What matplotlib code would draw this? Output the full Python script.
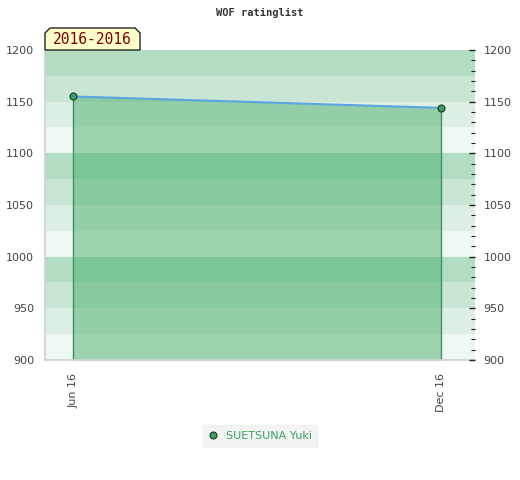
import datetime as dt
import matplotlib
matplotlib.use("Agg")
import matplotlib.pyplot as plt
import matplotlib.dates as mdates
from matplotlib.patches import Polygon
from matplotlib.ticker import MultipleLocator

# data
dates = [dt.date(2016, 6, 1), dt.date(2016, 12, 1)]
ratings = [1155, 1144]
tick_labels = ["Jun 16", "Dec 16"]
player = "SUETSUNA Yuki"
period = "2016-2016"

fig = plt.figure(figsize=(5.2, 4.8), dpi=100)
ax = fig.add_axes([45 / 520, 120 / 480, 430 / 520, 310 / 480])

ymin, ymax = 900, 1200
x0 = mdates.date2num(dates[0]) - 14
x1 = mdates.date2num(dates[-1]) + 17
ax.set_xlim(x0, x1)
ax.set_ylim(ymin, ymax)

# background bands, 25 points each
band_cols = ["#eef7f1", "#ddefe4", "#c8e6d3", "#b2ddc2"]
for i, lo in enumerate(range(ymin, ymax, 25)):
    ax.axhspan(lo, lo + 25, color=band_cols[i % 4], lw=0, zorder=0)

xs = mdates.date2num(dates)
ax.fill_between(xs, ratings, ymin, color="#40aa66", alpha=0.47, lw=0, zorder=1)
ax.vlines(xs, ymin, ratings, color="#3d9460", lw=1, zorder=2)
ax.plot(xs, ratings, color="#5aa4e2", lw=1.5, zorder=3)
ax.plot(xs, ratings, "o", ms=5, mfc="#38a060", mec="#1a3a25", mew=0.8, zorder=4,
        label=player)

# axes styling
for side in ["top", "right"]:
    ax.spines[side].set_visible(False)
for side in ["left", "bottom"]:
    ax.spines[side].set_color("#d0d0d0")
    ax.spines[side].set_linewidth(1.2)

ax.set_xticks(xs)
ax.set_xticklabels(tick_labels, rotation=90, fontsize=8, color="#444444")
ax.tick_params(axis="x", length=0, pad=9)

ax.yaxis.set_major_locator(MultipleLocator(50))
ax.tick_params(axis="y", length=0, labelsize=8, labelcolor="#444444", pad=8)

ax2 = ax.twinx()
ax2.set_ylim(ymin, ymax)
for side in ax2.spines:
    ax2.spines[side].set_visible(False)
ax2.yaxis.set_major_locator(MultipleLocator(50))
ax2.yaxis.set_minor_locator(MultipleLocator(10))
ax2.tick_params(axis="y", which="major", length=4, width=1, color="#222222",
                labelsize=8, labelcolor="#444444", pad=6, direction="in")
ax2.tick_params(axis="y", which="minor", length=3, width=0.8, color="#222222",
                direction="in")

fig.text(0.5, 1 - 13 / 480, "WOF ratinglist", ha="center", va="center",
         family="DejaVu Sans Mono", weight="bold", fontsize=7.5, color="#333333")

# period tag above the plot
corners = [(45, 50), (45, 33), (50, 28), (135, 28), (140, 33), (140, 50)]
tag = Polygon([(x / 100, (480 - y) / 100) for x, y in corners], closed=True,
              transform=fig.dpi_scale_trans, fc="#ffffcc", ec="#222222", lw=1,
              zorder=5)
fig.add_artist(tag)
fig.text(92.5 / 520, 1 - 40 / 480, period, ha="center", va="center",
         family="DejaVu Sans Mono", fontsize=10.5, color="#800000", zorder=6)

leg = ax.legend(loc="center", bbox_to_anchor=(260 / 520, 1 - 436 / 480),
                bbox_transform=fig.transFigure, frameon=True, fontsize=8,
                handlelength=0.8, handletextpad=0.8, borderpad=0.5,
                fancybox=False)
leg.get_frame().set_facecolor("#f0f0f0")
leg.get_frame().set_edgecolor("#f0f0f0")
for t in leg.get_texts():
    t.set_color("#3aa35f")

fig.savefig("out.png", dpi=100)
